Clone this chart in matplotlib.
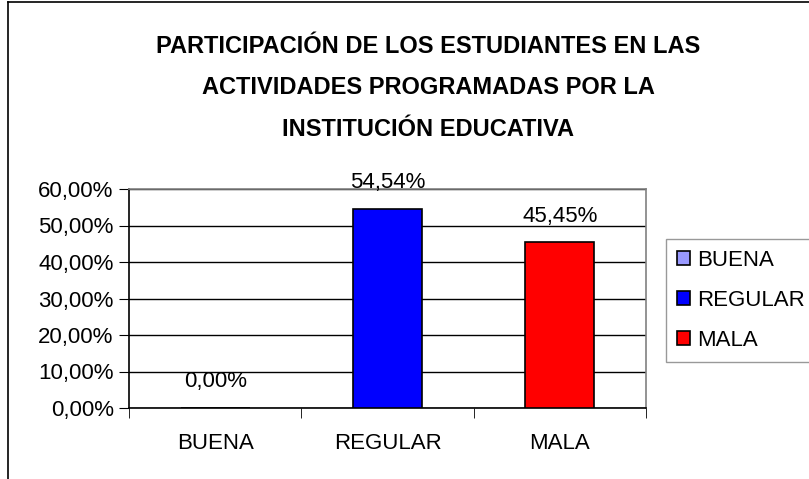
import matplotlib
matplotlib.use('Agg')
import matplotlib.pyplot as plt
from matplotlib.lines import Line2D

plt.rcParams['font.family'] = ['Liberation Sans', 'DejaVu Sans']

# Datos
categorias = ['BUENA', 'REGULAR', 'MALA']
valores = [0.0, 0.5454, 0.4545]
etiquetas = ['0,00%', '54,54%', '45,45%']
colores = ['#9999FF', '#0000FF', '#FF0000']
yticks = [0.0, 0.1, 0.2, 0.3, 0.4, 0.5, 0.6]
ytick_labels = ['0,00%', '10,00%', '20,00%', '30,00%', '40,00%', '50,00%', '60,00%']

W, H = 809, 479
fig = plt.figure(figsize=(W / 100, H / 100), dpi=100)
ax = fig.add_axes([129 / W, 1 - 408 / H, (646 - 129) / W, (408 - 189) / H])

x = range(len(categorias))
bars = ax.bar(x, valores, width=0.4, color=colores, edgecolor='black', linewidth=1.2,
              label=categorias, zorder=3)

for i, v in enumerate(valores):
    ax.annotate(etiquetas[i], (i, v), xytext=(0, 26), textcoords='offset pixels',
                ha='center', va='center', fontsize=16)

ax.set_xlim(-0.5, 2.5)
ax.set_ylim(0, 0.6)
ax.set_yticks(yticks)
ax.set_yticklabels(ytick_labels, fontsize=16)
ax.set_xticks(list(x))
ax.set_xticklabels(categorias, fontsize=16)
ax.set_xticks([-0.5, 0.5, 1.5, 2.5], minor=True)
ax.tick_params(axis='x', which='major', length=0, pad=18)
ax.tick_params(axis='x', which='minor', length=7, direction='out', color='black')
ax.tick_params(axis='y', length=7, direction='out', pad=4)
ax.yaxis.grid(True, color='black', linewidth=1, zorder=0)
ax.set_axisbelow(True)

for s in ['top', 'right']:
    ax.spines[s].set_color('#808080')
    ax.spines[s].set_linewidth(1.2)
for s in ['left', 'bottom']:
    ax.spines[s].set_color('black')
    ax.spines[s].set_linewidth(1.2)

# Título
fig.text(428 / W, 1 - 88 / H,
         'PARTICIPACIÓN DE LOS ESTUDIANTES EN LAS\nACTIVIDADES PROGRAMADAS POR LA\nINSTITUCIÓN EDUCATIVA',
         ha='center', va='center', fontsize=17, fontweight='bold', linespacing=2.05)

# Leyenda
leg = fig.legend(handles=bars, labels=categorias, loc='upper left',
                 bbox_to_anchor=(666 / W, 1 - 239 / H), borderaxespad=0, fontsize=16,
                 frameon=True, fancybox=False, edgecolor='#808080', handlelength=0.6,
                 handleheight=0.6, handletextpad=0.3, labelspacing=0.85, borderpad=0.5)
leg.get_frame().set_linewidth(1)

# Borde exterior
fig.add_artist(Line2D([8 / W, 8 / W], [0, 1 - 2 / H], color='black', linewidth=1.2))
fig.add_artist(Line2D([8 / W, 1], [1 - 2 / H, 1 - 2 / H], color='black', linewidth=1.2))

fig.savefig('out.png', dpi=100)
